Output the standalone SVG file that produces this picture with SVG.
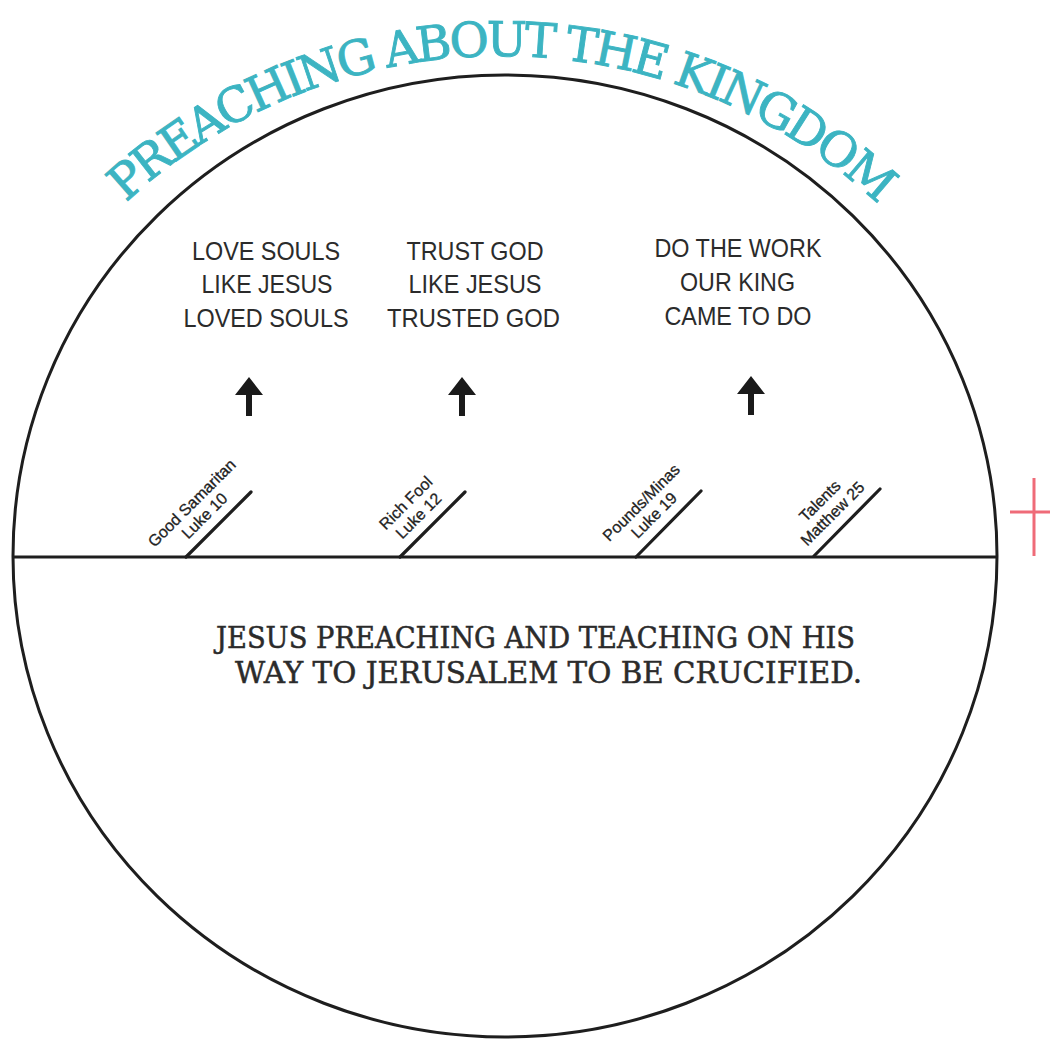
<svg xmlns="http://www.w3.org/2000/svg" width="1050" height="1041" viewBox="0 0 1050 1041">
  <style>
    .frame { fill: none; stroke: #1e1e1e; stroke-width: 3; }
    .tick { fill: none; stroke: #1e1e1e; stroke-width: 3.2; stroke-linecap: round; }
    .lbl { font-family: "Liberation Sans", Arial, sans-serif; font-size: 16px; fill: #222222; text-anchor: middle; stroke: #222222; stroke-width: 0.3; }
    .lesson { font-family: "Liberation Sans", Arial, sans-serif; font-size: 25px; fill: #2b2b2b; text-anchor: middle; }
    .title { font-family: "DejaVu Serif", serif; font-size: 48px; fill: #3cb4c2; stroke: #3cb4c2; stroke-width: 0.9; letter-spacing: -3.4px; }
    .body { font-family: "DejaVu Serif", serif; font-size: 29px; fill: #2b2b2b; stroke: #2b2b2b; stroke-width: 0.5; text-anchor: middle; }
    .arrow { fill: #1a1a1a; }
    .cross { stroke: #ef6b78; stroke-width: 3; fill: none; }
  </style>
  <defs>
    <path id="titleArc" d="M 22.1 332.5 A 553 553 0 0 1 979.9 332.5"/>
  </defs>
  <rect width="1050" height="1041" fill="#ffffff"/>

  <g id="title">
    <text class="title"><textPath href="#titleArc" startOffset="50%" text-anchor="middle">PREACHING ABOUT THE KINGDOM</textPath></text>
  </g>

  <g id="circle">
    <ellipse class="frame" cx="505" cy="556" rx="492" ry="481"/>
  </g>

  <g id="connectors">
    <line class="frame" x1="13" y1="557" x2="997" y2="557"/>
    <line class="tick" x1="186" y1="557" x2="251" y2="492"/>
    <line class="tick" x1="400" y1="557" x2="465" y2="492"/>
    <line class="tick" x1="636" y1="557" x2="701" y2="491"/>
    <line class="tick" x1="814" y1="556" x2="880" y2="489"/>
  </g>

  <g id="label-good-samaritan" transform="translate(219 524.5) rotate(-45)">
    <text class="lbl" x="-4" y="-29">Good Samaritan</text>
    <text class="lbl" x="-4" y="-11">Luke 10</text>
  </g>
  <g id="label-rich-fool" transform="translate(433 524.5) rotate(-45)">
    <text class="lbl" x="-4" y="-29">Rich Fool</text>
    <text class="lbl" x="-4" y="-11">Luke 12</text>
  </g>
  <g id="label-pounds" transform="translate(668.5 524) rotate(-45)">
    <text class="lbl" x="-4" y="-29">Pounds/Minas</text>
    <text class="lbl" x="-4" y="-11">Luke 19</text>
  </g>
  <g id="label-talents" transform="translate(847 522.5) rotate(-45)">
    <text class="lbl" x="-4" y="-29">Talents</text>
    <text class="lbl" x="-4" y="-11">Matthew 25</text>
  </g>

  <g id="arrow-1"><path class="arrow" d="M249 377 L263 395 L252 395 L252 416 L246 416 L246 395 L235 395 Z"/></g>
  <g id="arrow-2"><path class="arrow" d="M462 377 L476 395 L465 395 L465 416 L459 416 L459 395 L448 395 Z"/></g>
  <g id="arrow-3"><path class="arrow" d="M751 376 L765 394 L754 394 L754 415 L748 415 L748 394 L737 394 Z"/></g>

  <g id="lesson-love">
    <text class="lesson" x="266" y="260" textLength="148" lengthAdjust="spacingAndGlyphs">LOVE SOULS</text>
    <text class="lesson" x="267" y="293" textLength="131" lengthAdjust="spacingAndGlyphs">LIKE JESUS</text>
    <text class="lesson" x="266" y="327" textLength="165" lengthAdjust="spacingAndGlyphs">LOVED SOULS</text>
  </g>
  <g id="lesson-trust">
    <text class="lesson" x="475" y="260" textLength="137" lengthAdjust="spacingAndGlyphs">TRUST GOD</text>
    <text class="lesson" x="475" y="293" textLength="133" lengthAdjust="spacingAndGlyphs">LIKE JESUS</text>
    <text class="lesson" x="473.5" y="327" textLength="173" lengthAdjust="spacingAndGlyphs">TRUSTED GOD</text>
  </g>
  <g id="lesson-work">
    <text class="lesson" x="738" y="257" textLength="167" lengthAdjust="spacingAndGlyphs">DO THE WORK</text>
    <text class="lesson" x="737.5" y="291" textLength="115" lengthAdjust="spacingAndGlyphs">OUR KING</text>
    <text class="lesson" x="738" y="325" textLength="147" lengthAdjust="spacingAndGlyphs">CAME TO DO</text>
  </g>

  <g id="journey">
    <text class="body" x="535.5" y="648" textLength="639" lengthAdjust="spacingAndGlyphs">JESUS PREACHING AND TEACHING ON HIS</text>
    <text class="body" x="548.5" y="683" textLength="627" lengthAdjust="spacingAndGlyphs">WAY TO JERUSALEM TO BE CRUCIFIED.</text>
  </g>

  <g id="cross">
    <line class="cross" x1="1034" y1="478" x2="1034" y2="556"/>
    <line class="cross" x1="1010" y1="512" x2="1050" y2="512"/>
  </g>
</svg>
